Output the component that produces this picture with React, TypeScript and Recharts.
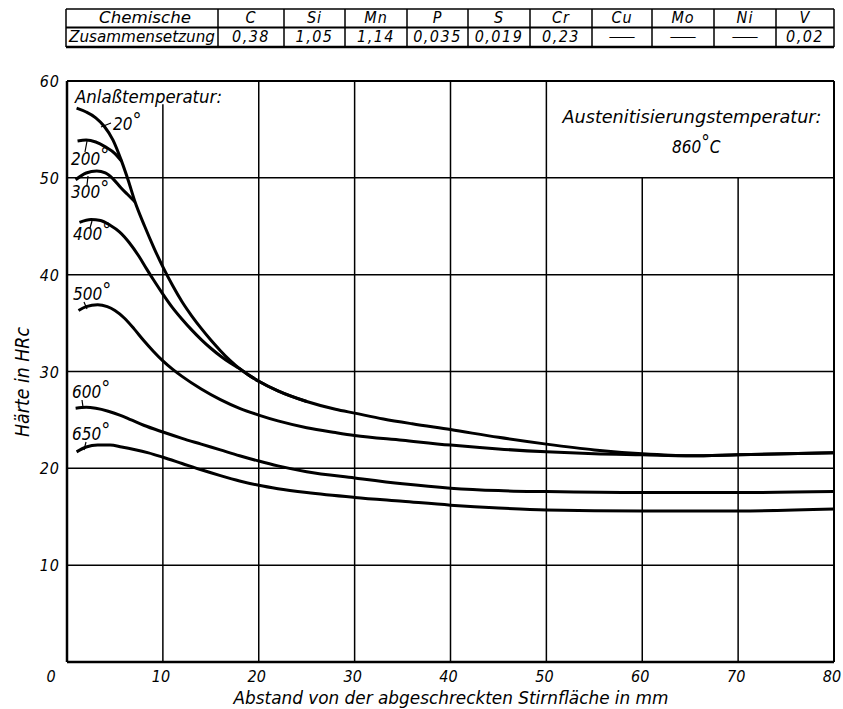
import React from 'react';
import { LineChart, Line, XAxis, YAxis, ReferenceLine } from 'recharts';

const FONT = "'DejaVu Sans Condensed', 'DejaVu Sans', sans-serif";
const TXT: React.CSSProperties = { fontStretch: 'condensed', fontStyle: 'italic' };

const xTicks = [0, 10, 20, 30, 40, 50, 60, 70, 80];
const yTicks = [0, 10, 20, 30, 40, 50, 60];

const elements = ['C', 'Si', 'Mn', 'P', 'S', 'Cr', 'Cu', 'Mo', 'Ni', 'V'];
const composition = ['0,38', '1,05', '1,14', '0,035', '0,019', '0,23', '—', '—', '—', '0,02'];

const tempValues = ['20', '200', '300', '400', '500', '600', '650'];

// distance d in mm, hardness h in HRc
const hrc20 = [
  { d: 1.0, h: 57.2 }, { d: 2.0, h: 56.8 }, { d: 3.0, h: 56.2 }, { d: 3.9, h: 55.3 },
  { d: 4.8, h: 53.9 }, { d: 5.7, h: 51.7 }, { d: 6.4, h: 49.7 }, { d: 7.1, h: 47.5 },
  { d: 8.1, h: 45.0 }, { d: 9.1, h: 42.7 }, { d: 10, h: 40.8 }, { d: 11, h: 38.9 },
  { d: 12, h: 37.2 }, { d: 13, h: 35.75 }, { d: 14, h: 34.45 }, { d: 15, h: 33.25 },
  { d: 16, h: 32.15 }, { d: 17, h: 31.15 }, { d: 18, h: 30.3 }, { d: 19, h: 29.6 },
  { d: 20, h: 29.0 }, { d: 22, h: 28.0 }, { d: 25, h: 26.9 }, { d: 28, h: 26.1 },
  { d: 30, h: 25.7 }, { d: 33, h: 25.1 }, { d: 36, h: 24.6 }, { d: 40, h: 24.0 },
  { d: 45, h: 23.2 }, { d: 50, h: 22.5 }, { d: 55, h: 21.9 }, { d: 60, h: 21.5 },
  { d: 65, h: 21.3 }, { d: 70, h: 21.4 }, { d: 75, h: 21.5 }, { d: 80, h: 21.6 },
];
const hrc200 = [
  { d: 1.1, h: 53.8 }, { d: 2.0, h: 53.9 }, { d: 3.0, h: 53.7 }, { d: 4.0, h: 53.2 },
  { d: 5.0, h: 52.5 }, { d: 5.7, h: 51.7 },
];
const hrc300 = [
  { d: 0.9, h: 49.8 }, { d: 2.0, h: 50.5 }, { d: 3.1, h: 50.7 }, { d: 4.0, h: 50.5 },
  { d: 4.8, h: 49.9 }, { d: 5.6, h: 49.0 }, { d: 6.3, h: 48.3 }, { d: 7.1, h: 47.5 },
];
const hrc400 = [
  { d: 1.3, h: 45.4 }, { d: 2.5, h: 45.7 }, { d: 3.5, h: 45.6 }, { d: 4.5, h: 45.1 },
  { d: 5.5, h: 44.4 }, { d: 6.5, h: 43.3 }, { d: 7.5, h: 41.9 }, { d: 8.3, h: 40.6 },
  { d: 9.0, h: 39.5 }, { d: 10, h: 38.0 }, { d: 11, h: 36.6 }, { d: 12, h: 35.4 },
  { d: 13, h: 34.3 }, { d: 14, h: 33.3 }, { d: 15, h: 32.4 }, { d: 16, h: 31.6 },
  { d: 17, h: 30.9 }, { d: 18, h: 30.3 }, { d: 19, h: 29.6 }, { d: 20, h: 29.0 },
  { d: 22, h: 28.0 }, { d: 25, h: 26.9 },
];
const hrc500 = [
  { d: 1.2, h: 36.3 }, { d: 2.0, h: 36.7 }, { d: 3.2, h: 36.9 }, { d: 4.2, h: 36.7 },
  { d: 5.0, h: 36.3 }, { d: 6.0, h: 35.5 }, { d: 7.0, h: 34.4 }, { d: 8.0, h: 33.2 },
  { d: 9.0, h: 32.1 }, { d: 10, h: 31.1 }, { d: 11, h: 30.25 }, { d: 12, h: 29.5 },
  { d: 14, h: 28.2 }, { d: 16, h: 27.1 }, { d: 18, h: 26.2 }, { d: 20, h: 25.5 },
  { d: 22, h: 24.9 }, { d: 25, h: 24.2 }, { d: 28, h: 23.7 }, { d: 30, h: 23.4 },
  { d: 35, h: 22.9 }, { d: 40, h: 22.4 }, { d: 45, h: 22.0 }, { d: 50, h: 21.7 },
  { d: 55, h: 21.5 }, { d: 60, h: 21.4 }, { d: 65, h: 21.3 }, { d: 70, h: 21.4 },
  { d: 75, h: 21.5 }, { d: 80, h: 21.6 },
];
const hrc600 = [
  { d: 0.9, h: 26.2 }, { d: 2.0, h: 26.3 }, { d: 3.0, h: 26.2 }, { d: 4.3, h: 25.9 },
  { d: 5.5, h: 25.5 }, { d: 6.7, h: 25.0 }, { d: 8.0, h: 24.45 }, { d: 10, h: 23.75 },
  { d: 12, h: 23.1 }, { d: 14, h: 22.5 }, { d: 16, h: 21.9 }, { d: 18, h: 21.3 },
  { d: 20, h: 20.75 }, { d: 22, h: 20.25 }, { d: 25, h: 19.65 }, { d: 30, h: 19.0 },
  { d: 35, h: 18.4 }, { d: 40, h: 17.95 }, { d: 45, h: 17.7 }, { d: 50, h: 17.6 },
  { d: 60, h: 17.5 }, { d: 70, h: 17.5 }, { d: 80, h: 17.6 },
];
const hrc650 = [
  { d: 1.0, h: 21.7 }, { d: 2.0, h: 22.2 }, { d: 3.2, h: 22.4 }, { d: 4.5, h: 22.4 },
  { d: 5.7, h: 22.2 }, { d: 7.0, h: 21.95 }, { d: 8.5, h: 21.6 }, { d: 10, h: 21.15 },
  { d: 12, h: 20.5 }, { d: 14, h: 19.85 }, { d: 16, h: 19.25 }, { d: 18, h: 18.7 },
  { d: 20, h: 18.25 }, { d: 22, h: 17.9 }, { d: 25, h: 17.5 }, { d: 30, h: 17.0 },
  { d: 35, h: 16.6 }, { d: 40, h: 16.2 }, { d: 45, h: 15.9 }, { d: 50, h: 15.7 },
  { d: 60, h: 15.6 }, { d: 70, h: 15.6 }, { d: 80, h: 15.8 },
];

const seriesList = [hrc20, hrc200, hrc300, hrc400, hrc500, hrc600, hrc650];

const W = 843;
const H = 709;

const XTick = (props: any) => {
  const { x, y, payload } = props;
  const v = payload.value;
  return (
    <text x={v === 0 ? x - 16 : x - 2} y={y + 12} textAnchor="middle" fontFamily={FONT}
      style={TXT} fontSize={16} fill="#000">
      {String(v)}
    </text>
  );
};

const YTick = (props: any) => {
  const { x, y, payload } = props;
  if (payload.value === 0) return null;
  return (
    <text x={x + 1} y={y + 6} textAnchor="end" fontFamily={FONT} style={TXT}
      fontSize={16} letterSpacing={1} fill="#000">
      {String(payload.value)}
    </text>
  );
};

const gridTop = (v: number) => (v === 10 ? 57.6 : v === 60 || v === 70 ? 50 : 60);

const colEdges = [66, 218, 284, 345, 407, 468, 530, 592, 652, 714, 776, 834];

const labelPos = [
  { x: 113, y: 130, lx1: 101, ly1: 127, lx2: 111, ly2: 123 },
  { x: 71, y: 165, lx1: 87, ly1: 141, lx2: 85, ly2: 152 },
  { x: 71, y: 198, lx1: 88, ly1: 176, lx2: 87, ly2: 185 },
  { x: 73, y: 240, lx1: 92, ly1: 221, lx2: 90, ly2: 228 },
  { x: 73, y: 300, lx1: 87, ly1: 309, lx2: 84, ly2: 302 },
  { x: 72, y: 398, lx1: 83, ly1: 407, lx2: 82, ly2: 400 },
  { x: 72, y: 440, lx1: 84, ly1: 450, lx2: 86, ly2: 442 },
];

export default function App() {
  return (
    <div style={{ position: 'absolute', left: 0, top: 0, width: W, height: H, background: '#fff' }}>
      <LineChart width={W} height={H} margin={{ top: 81, right: 9, bottom: 27, left: 37 }}>
        <XAxis type="number" dataKey="d" domain={[0, 80]} ticks={xTicks} height={20}
          axisLine={false} tickLine={false} tick={<XTick />} allowDataOverflow />
        <YAxis type="number" dataKey="h" domain={[0, 60]} ticks={yTicks} width={30}
          axisLine={false} tickLine={false} tick={<YTick />} allowDataOverflow />
        {yTicks.filter((v) => v > 0 && v < 60).map((v) => (
          <ReferenceLine key={'h' + v} segment={[{ x: 0, y: v }, { x: 80, y: v }]}
            stroke="#000" strokeWidth={1.5} ifOverflow="visible" />
        ))}
        {xTicks.filter((v) => v > 0 && v < 80).map((v) => (
          <ReferenceLine key={'v' + v} segment={[{ x: v, y: 0 }, { x: v, y: gridTop(v) }]}
            stroke="#000" strokeWidth={1.5} ifOverflow="visible" />
        ))}
        <ReferenceLine segment={[{ x: 0, y: 60 }, { x: 80, y: 60 }]} stroke="#000" strokeWidth={2} ifOverflow="visible" />
        <ReferenceLine segment={[{ x: 0, y: 0 }, { x: 80, y: 0 }]} stroke="#000" strokeWidth={2.5} ifOverflow="visible" />
        <ReferenceLine segment={[{ x: 0, y: 0 }, { x: 0, y: 60 }]} stroke="#000" strokeWidth={2.5} ifOverflow="visible" />
        <ReferenceLine segment={[{ x: 80, y: 0 }, { x: 80, y: 60 }]} stroke="#000" strokeWidth={2} ifOverflow="visible" />
        {seriesList.map((s, i) => (
          <Line key={tempValues[i]} data={s} dataKey="h" type="monotone" stroke="#000"
            strokeWidth={3} dot={false} activeDot={false} isAnimationActive={false} />
        ))}
      </LineChart>
      <svg width={W} height={H} style={{ position: 'absolute', left: 0, top: 0, pointerEvents: 'none', ...TXT }}
        fontFamily={FONT} fill="#000">
        {/* composition table */}
        <line x1={66} y1={9} x2={834} y2={9} stroke="#000" strokeWidth={1.5} />
        <line x1={66} y1={27.5} x2={834} y2={27.5} stroke="#000" strokeWidth={2} />
        <line x1={66} y1={47} x2={834} y2={47} stroke="#000" strokeWidth={2.5} />
        {colEdges.map((cx) => (
          <line key={'c' + cx} x1={cx} y1={9} x2={cx} y2={47} stroke="#000" strokeWidth={1.5} />
        ))}
        <text x={145} y={23} textAnchor="middle" fontSize={16} textLength={92} lengthAdjust="spacingAndGlyphs">Chemische</text>
        <text x={142} y={42} textAnchor="middle" fontSize={16} textLength={146} lengthAdjust="spacingAndGlyphs">Zusammensetzung</text>
        {elements.map((el, i) => (
          <text key={el} x={(colEdges[i + 1] + colEdges[i + 2]) / 2} y={23} textAnchor="middle" fontSize={16}
            letterSpacing={1}>{el}</text>
        ))}
        {composition.map((val, i) => (
          val === '—' ? (
            <text key={'v' + i} x={(colEdges[i + 1] + colEdges[i + 2]) / 2} y={41} textAnchor="middle" fontSize={12}
              textLength={28} lengthAdjust="spacingAndGlyphs">{val}</text>
          ) : (
            <text key={'v' + i} x={(colEdges[i + 1] + colEdges[i + 2]) / 2} y={42} textAnchor="middle" fontSize={16}
              letterSpacing={1.5}>{val}</text>
          )
        ))}

        {/* annotations */}
        <text x={75} y={103} fontSize={17} textLength={147} lengthAdjust="spacingAndGlyphs">Anlaßtemperatur:</text>
        <text x={692} y={123} textAnchor="middle" fontSize={17} textLength={259} lengthAdjust="spacingAndGlyphs">Austenitisierungstemperatur:</text>
        <text x={672} y={153} fontSize={17}>860<tspan fontSize={19} dy={-4}>°</tspan><tspan dy={4}>C</tspan></text>
        {tempValues.map((t, i) => {
          const p = labelPos[i];
          return (
            <g key={'l' + t}>
              <line x1={p.lx1} y1={p.ly1} x2={p.lx2} y2={p.ly2} stroke="#000" strokeWidth={1.2} />
              <text x={p.x} y={p.y} fontSize={17}>{t}<tspan fontSize={20} dy={-3}>°</tspan></text>
            </g>
          );
        })}

        {/* axis titles */}
        <text x={451} y={704} textAnchor="middle" fontSize={17} textLength={435} lengthAdjust="spacingAndGlyphs">Abstand von der abgeschreckten Stirnfläche in mm</text>
        <text x={0} y={0} transform="translate(29,382) rotate(-90)" textAnchor="middle" fontSize={19}
          textLength={110} lengthAdjust="spacingAndGlyphs">Härte in HRc</text>
      </svg>
    </div>
  );
}
